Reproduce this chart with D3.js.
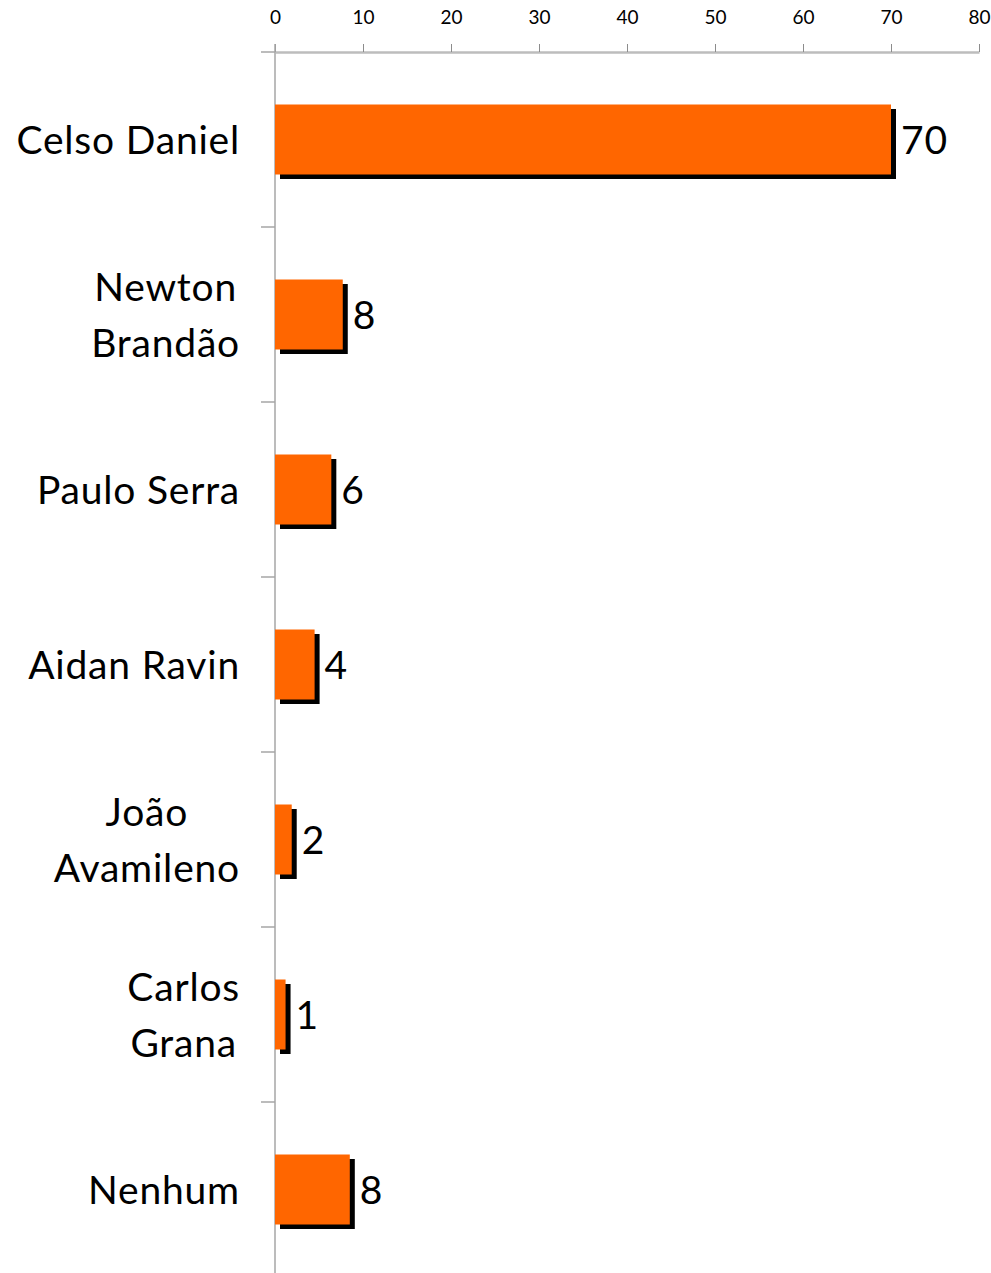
<!DOCTYPE html>
<html lang="pt">
<head>
<meta charset="UTF-8">
<title>Votos</title>
<script src="https://d3js.org/d3.v7.min.js"></script>
<style>
    body { margin: 0; background: #fff; }
    svg text { font-family: Lato, "Open Sans", sans-serif; fill: #000; }
</style>
</head>
<body>
<div id="chart"></div>
<script>
    // chart data
    var categories = [["Celso Daniel"], ["Newton", "Brandão"], ["Paulo Serra"], ["Aidan Ravin"],
        ["João", "Avamileno"], ["Carlos", "Grana"], ["Nenhum"]];
    var values = [70, 7.7, 6.4, 4.5, 1.9, 1.2, 8.5];
    var valueLabels = ["70", "8", "6", "4", "2", "1", "8"];
    var xTicks = [0, 10, 20, 30, 40, 50, 60, 70, 80];

    var width = 991, height = 1273;
    var axisX = 275, axisY = 52;

    var svg = d3.select("#chart").append("svg")
        .attr("width", width)
        .attr("height", height);

    var keys = categories.map(function(c) { return c.join(" "); });

    var x = d3.scaleLinear().domain([0, 80]).range([axisX, 979]);
    var y = d3.scaleBand().domain(keys).range([axisY, axisY + 1225])
        .paddingInner(0.6).paddingOuter(0.3);

    var gap = (y.step() - y.bandwidth()) / 2;

    // top axis
    var xAxis = svg.append("g")
        .attr("transform", "translate(0," + axisY + ")")
        .call(d3.axisTop(x).tickValues(xTicks).tickSize(8).tickPadding(20).tickSizeOuter(0));
    xAxis.select(".domain").attr("stroke", "#bdbdbd").attr("stroke-width", 2.5);
    xAxis.selectAll(".tick line").attr("stroke", "#8c8c8c");
    xAxis.selectAll(".tick text").style("font-size", "19px").attr("fill", "#000");

    // vertical axis line
    svg.append("line")
        .attr("x1", axisX).attr("x2", axisX)
        .attr("y1", axisY - 8).attr("y2", height)
        .attr("stroke", "#a6a6a6").attr("stroke-width", 1.5);

    // category boundary ticks
    svg.selectAll(".cat-tick")
        .data(keys)
        .enter().append("line")
        .attr("class", "cat-tick")
        .attr("x1", axisX - 14).attr("x2", axisX)
        .attr("y1", function(d) { return y(d) - gap; })
        .attr("y2", function(d) { return y(d) - gap; })
        .attr("stroke", "#a6a6a6").attr("stroke-width", 1.5);

    // shadows
    svg.selectAll(".shadow")
        .data(values)
        .enter().append("rect")
        .attr("class", "shadow")
        .attr("x", x(0) + 5)
        .attr("y", function(d, i) { return y(keys[i]) + 4.5; })
        .attr("width", function(d) { return x(d) - x(0); })
        .attr("height", y.bandwidth())
        .attr("fill", "#000");

    // bars
    svg.selectAll(".bar")
        .data(values)
        .enter().append("rect")
        .attr("class", "bar")
        .attr("x", x(0))
        .attr("y", function(d, i) { return y(keys[i]); })
        .attr("width", function(d) { return x(d) - x(0); })
        .attr("height", y.bandwidth())
        .attr("fill", "#ff6600");

    // value labels
    svg.selectAll(".val")
        .data(values)
        .enter().append("text")
        .attr("class", "val")
        .attr("x", function(d) { return x(d) + 10; })
        .attr("y", function(d, i) { return y(keys[i]) + y.bandwidth() / 2; })
        .attr("dy", "0.36em")
        .style("font-size", "39px")
        .style("letter-spacing", "0.8px")
        .text(function(d, i) { return valueLabels[i]; });

    // category labels (multi-line ones are centred as a block, block right-aligned)
    var lineH = 56;
    categories.forEach(function(lines, i) {
        var cy = y(keys[i]) + y.bandwidth() / 2;
        var g = svg.append("g");
        var texts = lines.map(function(line, j) {
            return g.append("text")
                .attr("y", cy + (j - (lines.length - 1) / 2) * lineH)
                .attr("dy", "0.36em")
                .style("font-size", "39px")
                .style("letter-spacing", "0.8px")
                .text(line);
        });
        var widths = texts.map(function(t) { return t.node().getComputedTextLength(); });
        var maxW = d3.max(widths);
        texts.forEach(function(t) {
            t.attr("x", 240 - maxW / 2).attr("text-anchor", "middle");
        });
    });
</script>
</body>
</html>
